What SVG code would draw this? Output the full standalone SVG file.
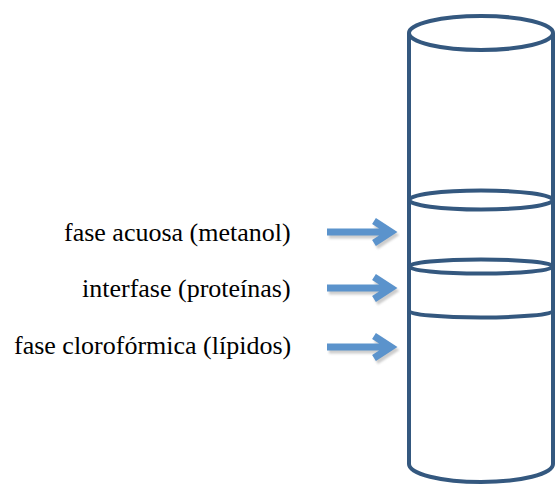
<svg xmlns="http://www.w3.org/2000/svg" width="555" height="484" viewBox="0 0 555 484">
<defs>
<filter id="blur" x="-10%" y="-50%" width="120%" height="200%"><feGaussianBlur stdDeviation="1"/></filter>
</defs>
<rect width="555" height="484" fill="#fff"/>
<g id="cylinder" fill="none" stroke="#34587f" stroke-width="4">
<ellipse cx="481" cy="33" rx="72" ry="17"/>
<path d="M409,33 V464 A72,18 0 0 0 553,464 V33"/>
<ellipse cx="481" cy="200" rx="72" ry="9.5"/>
<ellipse cx="481" cy="266.5" rx="72" ry="7"/>
<path d="M409,311 A72,6.5 0 0 0 553,311"/>
</g>
<g id="connectors" fill="none" stroke-width="7">
<g id="arrow1">
<path stroke="#cccccc" filter="url(#blur)" d="M329,235 H393 M376,224 L393,235 L376,246"/>
<path stroke="#5b93cc" d="M327,232 H391 M374,221 L391,232 L374,243"/>
</g>
<g id="arrow2">
<path stroke="#cccccc" filter="url(#blur)" d="M329,291 H393 M376,280 L393,291 L376,302"/>
<path stroke="#5b93cc" d="M327,288 H391 M374,277 L391,288 L374,299"/>
</g>
<g id="arrow3">
<path stroke="#cccccc" filter="url(#blur)" d="M329,350 H393 M376,339 L393,350 L376,361"/>
<path stroke="#5b93cc" d="M327,347 H391 M374,336 L391,347 L374,358"/>
</g>
</g>
<g id="label1"><text transform="scale(1.3)" x="49.23" y="185.38" font-family="Liberation Serif" font-size="20">fase acuosa (metanol)</text></g>
<g id="label2"><text transform="scale(1.3)" x="63.08" y="228.46" font-family="Liberation Serif" font-size="20">interfase (proteínas)</text></g>
<g id="label3"><text transform="scale(1.3)" x="10.77" y="272.31" font-family="Liberation Serif" font-size="20">fase clorofórmica (lípidos)</text></g>
</svg>
